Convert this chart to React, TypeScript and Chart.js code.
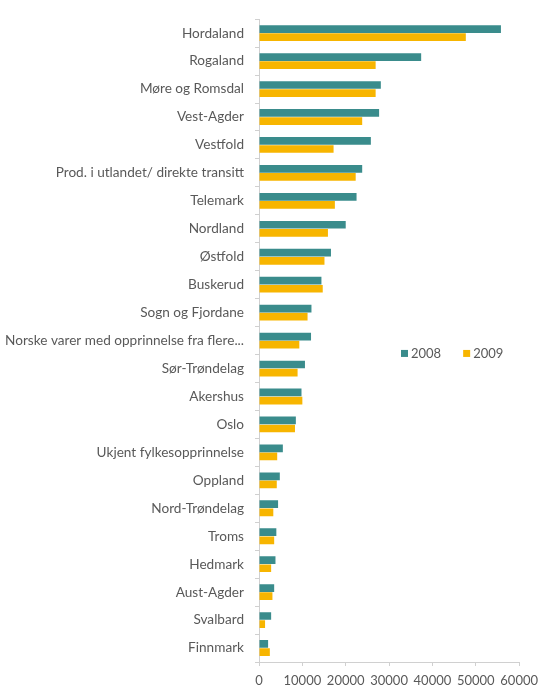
import React, { useEffect, useRef } from "react";
import { Chart, registerables } from "chart.js";

Chart.register(...registerables);

const categories = [
  "Hordaland",
  "Rogaland",
  "Møre og Romsdal",
  "Vest-Agder",
  "Vestfold",
  "Prod. i utlandet/ direkte transitt",
  "Telemark",
  "Nordland",
  "Østfold",
  "Buskerud",
  "Sogn og Fjordane",
  "Norske varer med opprinnelse fra flere...",
  "Sør-Trøndelag",
  "Akershus",
  "Oslo",
  "Ukjent fylkesopprinnelse",
  "Oppland",
  "Nord-Trøndelag",
  "Troms",
  "Hedmark",
  "Aust-Agder",
  "Svalbard",
  "Finnmark",
];

const values2008 = [
  55800, 37400, 28100, 27700, 25800, 23800, 22500, 20000, 16600, 14400, 12100,
  12000, 10600, 9800, 8500, 5500, 4800, 4400, 4000, 3800, 3500, 2800, 2100,
];

const values2009 = [
  47700, 26900, 26900, 23800, 17200, 22300, 17500, 15900, 15100, 14700, 11200,
  9300, 8900, 10000, 8300, 4200, 4100, 3300, 3500, 2800, 3100, 1400, 2500,
];

const seriesLabels = ["2008", "2009"];
const xTicks = [0, 10000, 20000, 30000, 40000, 50000, 60000];

const FONT = "Lato, 'Liberation Sans', sans-serif";
const TEXT = "#595959";

const legendPlugin = {
  id: "innerLegend",
  afterDraw(chart: any) {
    const { ctx, chartArea } = chart;
    const y = chartArea.top + (chartArea.bottom - chartArea.top) * 0.52;
    let x = chartArea.left + 142;
    ctx.save();
    ctx.font = `13px ${FONT}`;
    ctx.textBaseline = "middle";
    chart.data.datasets.forEach((ds: any) => {
      ctx.fillStyle = ds.backgroundColor;
      ctx.fillRect(x, y - 3.5, 7, 7);
      ctx.fillStyle = TEXT;
      ctx.fillText(ds.label, x + 10, y);
      x += 10 + ctx.measureText(ds.label).width + 22;
    });
    ctx.restore();
  },
};

export default function App() {
  const ref = useRef<HTMLCanvasElement | null>(null);

  useEffect(() => {
    document.body.style.margin = "0";
    const chart = new Chart(ref.current as HTMLCanvasElement, {
      type: "bar",
      data: {
        labels: categories,
        datasets: [
          {
            label: seriesLabels[0],
            data: values2008,
            backgroundColor: "#3a8c8c",
            barPercentage: 0.95,
            categoryPercentage: 0.58,
          },
          {
            label: seriesLabels[1],
            data: values2009,
            backgroundColor: "#f7b500",
            barPercentage: 0.95,
            categoryPercentage: 0.58,
          },
        ],
      },
      options: {
        indexAxis: "y",
        animation: false,
        responsive: false,
        maintainAspectRatio: false,
        layout: { padding: { top: 12, right: 20, left: 0, bottom: 0 } },
        plugins: {
          legend: { display: false },
          tooltip: { enabled: false },
        },
        scales: {
          x: {
            min: 0,
            max: 60000,
            afterBuildTicks: (scale: any) => {
              scale.ticks = xTicks.map((v) => ({ value: v }));
            },
            afterFit: (scale: any) => {
              scale.height = 28;
            },
            grid: {
              drawOnChartArea: false,
              color: "#d0d0d0",
              tickLength: 4,
            },
            border: { color: "#d0d0d0" },
            ticks: {
              color: TEXT,
              font: { family: FONT, size: 13 },
              padding: 7,
              maxRotation: 0,
              callback: (v: any) => String(v),
            },
          },
          y: {
            afterFit: (scale: any) => {
              scale.width = 259;
            },
            grid: {
              drawOnChartArea: false,
              color: "#d0d0d0",
              tickLength: 4,
              offset: true,
            },
            border: { color: "#d0d0d0" },
            ticks: {
              color: TEXT,
              font: { family: FONT, size: 13.6 },
              padding: 11,
              autoSkip: false,
            },
          },
        },
      },
      plugins: [legendPlugin],
    } as any);
    return () => chart.destroy();
  }, []);

  return (
    <div style={{ width: 545, height: 690 }}>
      <canvas ref={ref} width={545} height={690} style={{ display: "block" }} />
    </div>
  );
}
